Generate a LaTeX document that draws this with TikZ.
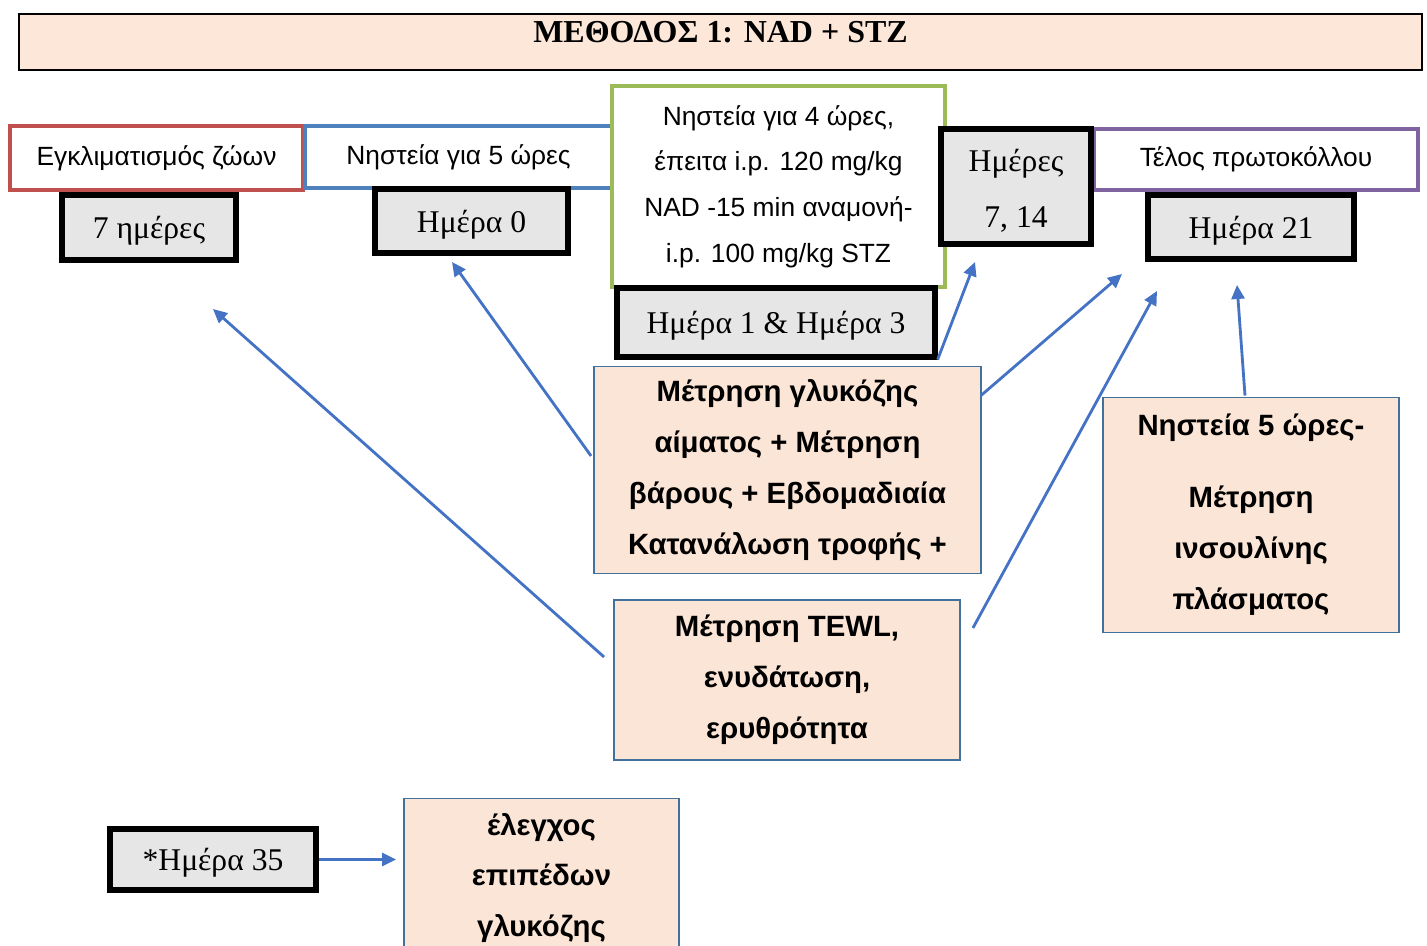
\documentclass[tikz,border=0pt]{standalone}
\usepackage{fontspec}
\setmainfont{Liberation Serif}
\setsansfont{Liberation Sans}
\usetikzlibrary{arrows.meta,positioning,calc}
\definecolor{ink}       {HTML}{000000}
\definecolor{titlebg}   {HTML}{FCE7D9}
\definecolor{taskbg}    {HTML}{FBE5D6}
\definecolor{daybg}     {HTML}{E6E6E6}
\definecolor{redline}   {HTML}{C0504D}
\definecolor{blueline}  {HTML}{4F81BD}
\definecolor{greenline} {HTML}{9BBB59}
\definecolor{purpleline}{HTML}{8064A2}
\definecolor{taskline}  {HTML}{41719C}
\definecolor{arrowblue} {HTML}{4472C4}
\newcommand{\phasefont}{\fontsize{15}{26}\selectfont\sffamily}
\newcommand{\dayfont}{\fontsize{18}{32}\selectfont\rmfamily}
\newcommand{\taskfont}{\fontsize{16.7}{29}\selectfont\sffamily\bfseries}
\tikzset{
  pbox/.style  ={draw=#1, fill=white, line width=2.1pt, align=center,
                 inner sep=0pt, font=\phasefont},
  dbox/.style  ={draw=ink, fill=daybg, line width=3pt, align=center,
                 inner sep=0pt, text height=15pt, text depth=2pt,
                 font=\dayfont},
  tbox/.style  ={draw=taskline, fill=taskbg, line width=1.1pt, align=center,
                 inner sep=0pt, font=\taskfont},
  arr/.style   ={-{Triangle[length=2.8mm,width=2.6mm]}, line width=1.6pt,
                 draw=arrowblue},
}

\begin{document}
\begin{tikzpicture}[x=0.02cm,y=-0.02cm]
  \useasboundingbox (0,0) rectangle (1427,946);

  % title bar
  \node[draw=ink, fill=titlebg, line width=1.4pt, minimum width=28.06cm,
        inner sep=0pt, text height=0.58cm, text depth=0.54cm,
        font=\fontsize{18.2}{20}\selectfont\rmfamily\bfseries]
    (title) at (720.5,42) {ΜΕΘΟΔΟΣ 1: NAD + STZ};

  % phases
  \node[pbox=redline, minimum width=5.86cm, minimum height=1.28cm]
    (acclim) at (156.5,158) {Εγκλιματισμός ζώων};
  \node[pbox=blueline, minimum width=6.14cm, minimum height=1.24cm]
    (fast) at (458.5,157) {Νηστεία για 5 ώρες};
  \node[pbox=greenline, minimum width=6.66cm, minimum height=4.02cm]
    (inject) at (778.5,186.5)
    {Νηστεία για 4 ώρες,\\ έπειτα i.p. 120 mg/kg\\
     NAD -15 min αναμονή-\\ i.p. 100 mg/kg STZ};
  \node[pbox=purpleline, minimum width=6.48cm, minimum height=1.22cm]
    (endprot) at (1256,159.5) {Τέλος πρωτοκόλλου};

  % days
  \node[dbox, minimum width=3.48cm, minimum height=1.3cm]
    (d7) at (149,227.5) {7 ημέρες};
  \node[dbox, minimum width=3.86cm, minimum height=1.28cm]
    (d0) at (471.5,221) {Ημέρα 0};
  \node[dbox, minimum width=6.36cm, minimum height=1.38cm]
    (d13) at (776,322.5) {Ημέρα 1 \& Ημέρα 3};
  \node[dbox, minimum width=3.0cm, minimum height=2.3cm,
        text height=50pt, text depth=3pt]
    (d714) at (1016,186.5) {Ημέρες\\ 7, 14};
  \node[dbox, minimum width=4.12cm, minimum height=1.28cm]
    (d21) at (1251,227) {Ημέρα 21};
  \node[dbox, minimum width=4.12cm, minimum height=1.22cm]
    (d35) at (213,859.5) {*Ημέρα 35};

  % measurements
  \node[tbox, minimum width=7.74cm, minimum height=4.14cm]
    (meas) at (787.5,470)
    {Μέτρηση γλυκόζης\\ αίματος + Μέτρηση\\
     βάρους + Εβδομαδιαία\\ Κατανάλωση τροφής +};
  \node[tbox, minimum width=6.92cm, minimum height=3.2cm]
    (tewl) at (787,680) {Μέτρηση TEWL,\\ ενυδάτωση,\\ ερυθρότητα};
  \node[tbox, minimum width=5.92cm, minimum height=4.7cm]
    (insulin) at (1251,515)
    {Νηστεία 5 ώρες-\\[12pt] Μέτρηση\\ ινσουλίνης\\ πλάσματος};
  \node[tbox, minimum width=5.5cm, minimum height=3.18cm]
    (gluc) at (541.5,878) {έλεγχος\\ επιπέδων\\ γλυκόζης};

  % arrow ends
  \coordinate (to7)   at (213,309);
  \coordinate (to0)   at (452,262);
  \coordinate (to714) at (975,262);
  \coordinate (to21a) at (1122,274);
  \coordinate (to21b) at (1157,291);
  \coordinate (to21c) at (1237,285);
  \coordinate (toglu) at ($(d35.east -| gluc.west)+(-7,0)$);

  \draw[arr] ($(tewl.west)+(-9,-23)$) -- (to7);
  \draw[arr] ($(meas.west)+(-2,-14)$) -- (to0);
  \draw[arr] (d13.south east) -- (to714);
  \draw[arr] ($(meas.north east)+(-1,30)$) -- (to21a);
  \draw[arr] ($(tewl.east)+(12,-52)$) -- (to21b);
  \draw[arr] ($(insulin.north)+(-6,-1)$) -- (to21c);
  \draw[arr] (d35.east) -- (toglu);
\end{tikzpicture}
\end{document}
